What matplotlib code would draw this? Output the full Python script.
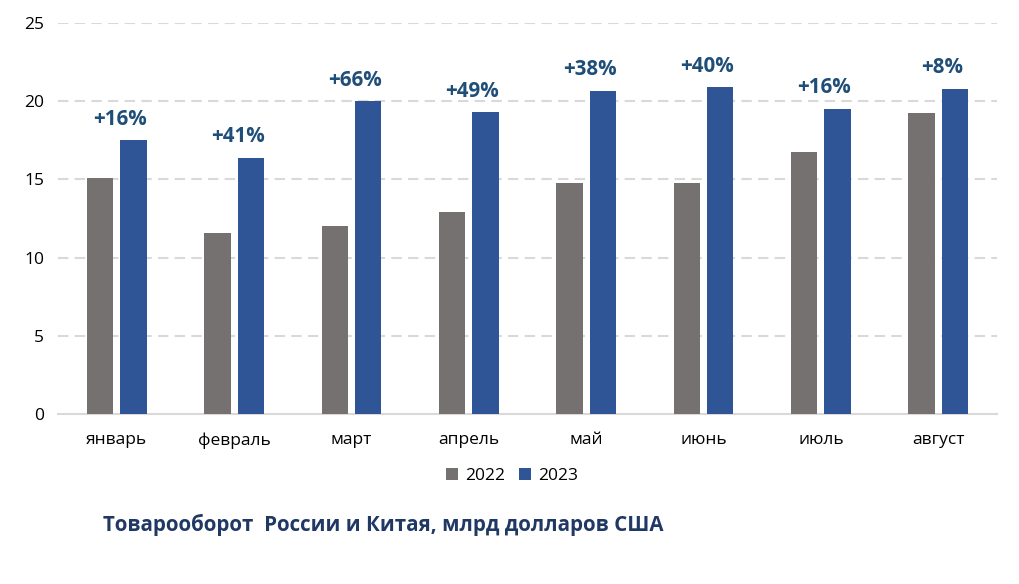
import matplotlib
matplotlib.use("Agg")
import matplotlib.pyplot as plt
import numpy as np

months = ["январь", "февраль", "март", "апрель", "май", "июнь", "июль", "август"]
v2022 = [15.1, 11.6, 12.0, 12.9, 14.8, 14.8, 16.75, 19.25]
v2023 = [17.5, 16.4, 20.0, 19.3, 20.65, 20.9, 19.5, 20.8]
growth = ["+16%", "+41%", "+66%", "+49%", "+38%", "+40%", "+16%", "+8%"]
series_names = ["2022", "2023"]
yticks = [0, 5, 10, 15, 20, 25]
title = "Товарооборот  России и Китая, млрд долларов США"

plt.rcParams['font.family'] = ['Open Sans', 'DejaVu Sans']

fig = plt.figure(figsize=(10.19, 5.84), dpi=100)
ax = fig.add_axes([58/1019, 1-414/584, (997-58)/1019, (414-23)/584])

x = np.arange(len(months))
w = 0.225
gap = 0.06
c22 = "#767171"
c23 = "#2F5597"
ax.bar(x - (w+gap)/2, v2022, w, color=c22, label=series_names[0], zorder=3)
ax.bar(x + (w+gap)/2, v2023, w, color=c23, label=series_names[1], zorder=3)

for xi, v, g in zip(x, v2023, growth):
    ax.text(xi + 0.03, v + 1.35, g, ha="center", va="center", fontsize=14.8,
            fontweight="bold", color="#1F4E79", zorder=4)

ax.set_xlim(-0.5, len(months) - 0.5)
ax.set_ylim(0, 25)
ax.set_yticks(yticks)
ax.set_xticks(x)
ax.set_xticklabels(months)
ax.tick_params(axis="both", length=0, labelsize=12.5, colors="#000000")
ax.tick_params(axis="x", pad=13)
ax.tick_params(axis="y", pad=10)
for s in ["top", "right", "left"]:
    ax.spines[s].set_visible(False)
ax.spines["bottom"].set_color("#D9D9D9")
ax.spines["bottom"].set_linewidth(1.5)
ax.yaxis.grid(True, color="#D9D9D9", linestyle=(0, (5, 3)), linewidth=1.5, zorder=0)
ax.set_axisbelow(True)
for gl in ax.get_ygridlines()[:1]:
    gl.set_visible(False)

leg = fig.legend(loc="center", bbox_to_anchor=(512/1019, 1-476/584), ncol=2, frameon=False,
                 fontsize=12.5, handlelength=0.7, handleheight=0.7, handletextpad=0.4,
                 columnspacing=0.8)

fig.text(103/1019, 1-525/584, title, fontsize=14.8, fontweight="bold", color="#203864",
         ha="left", va="center")

fig.savefig("out.png", dpi=100)
